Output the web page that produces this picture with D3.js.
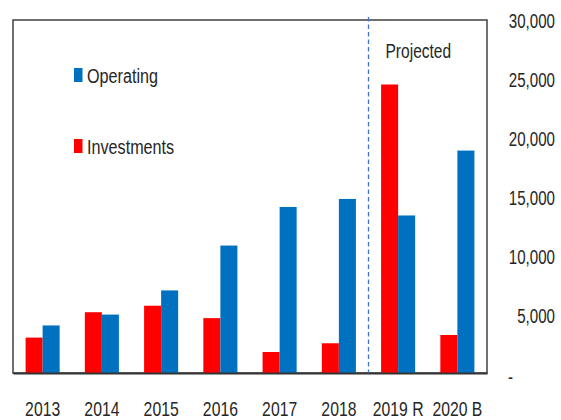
<!DOCTYPE html>
<html>
<head>
<meta charset="utf-8">
<script src="https://cdn.jsdelivr.net/npm/d3@7"></script>
<style>
  html, body { margin: 0; padding: 0; background: #fff; }
  svg { display: block; }
  text { font-family: "Liberation Sans", Arial, sans-serif; fill: #262626; }
</style>
</head>
<body>
<svg id="chart" width="561" height="420"></svg>
<script>
const categories = ["2013", "2014", "2015", "2016", "2017", "2018", "2019 R", "2020 B"];
const investments = [3000, 5150, 5700, 4650, 1780, 2520, 24450, 3220];
const operating = [4030, 4950, 7000, 10800, 14070, 14750, 13350, 18850];
const yTicks = [0, 5000, 10000, 15000, 20000, 25000, 30000];
const seriesNames = ["Investments", "Operating"];
const seriesColors = ["#FF0000", "#0070C0"];
const projectedFrom = "2019 R";
const projectedLabel = "Projected";

const svg = d3.select("#chart");
const mLeft = 13, mRight = 487, mTop = 20, mBottom = 373;

const x0 = d3.scaleBand().domain(categories).range([mLeft, mRight]).paddingInner(0).paddingOuter(0);
const x1 = d3.scaleBand().domain(seriesNames).range([0, x0.bandwidth()]).paddingInner(0).paddingOuter(0.74);
const y = d3.scaleLinear().domain([0, 30000]).range([mBottom, mTop - 1]);
const color = d3.scaleOrdinal().domain(seriesNames).range(seriesColors);

const rows = categories.map((c, i) => ({ cat: c, vals: [
  { key: "Investments", v: investments[i] },
  { key: "Operating", v: operating[i] }
]}));

// plot box
svg.append("rect")
  .attr("x", mLeft).attr("y", mTop)
  .attr("width", mRight - mLeft).attr("height", mBottom - mTop)
  .attr("fill", "none").attr("stroke", "#404040").attr("stroke-width", 1.5);

// bars
const g = svg.append("g").selectAll("g").data(rows).join("g")
  .attr("transform", d => `translate(${x0(d.cat)},0)`);
g.selectAll("rect").data(d => d.vals).join("rect")
  .attr("x", d => x1(d.key))
  .attr("width", x1.bandwidth())
  .attr("y", d => y(d.v))
  .attr("height", d => y(0) - y(d.v))
  .attr("fill", d => color(d.key));

// baseline (x axis)
const xAxis = svg.append("g")
  .attr("transform", `translate(0,${mBottom})`)
  .call(d3.axisBottom(x0).tickSize(0).tickPadding(0));
xAxis.select(".domain").attr("stroke", "#333").attr("stroke-width", 2.2);
xAxis.selectAll(".tick text")
  .attr("font-size", 21)
  .attr("font-family", "'Liberation Sans', Arial, sans-serif")
  .attr("y", 0).attr("dy", 0)
  .attr("transform", "translate(0,42.5) scale(0.75,1)")
  .style("fill", "#262626");

// y axis on right
const yAxis = svg.append("g")
  .attr("transform", `translate(555,0)`)
  .call(d3.axisRight(y).tickValues(yTicks).tickSize(0).tickPadding(0)
    .tickFormat(d => d === 0 ? "-" : d3.format(",")(d)));
yAxis.select(".domain").remove();
yAxis.selectAll(".tick text")
  .attr("font-size", 21)
  .attr("font-family", "'Liberation Sans', Arial, sans-serif")
  .attr("text-anchor", d => d === 0 ? "start" : "end")
  .attr("x", 0)
  .attr("dy", "0.36em")
  .attr("transform", d => d === 0 ? "translate(-47,3) scale(0.72,1)" : "translate(0,1) scale(0.72,1)")
  .style("fill", "#262626");

// projected dashed line
const px = x0(projectedFrom);
svg.append("line")
  .attr("x1", px).attr("x2", px)
  .attr("y1", mTop - 3).attr("y2", mBottom)
  .attr("stroke", "#4472C4").attr("stroke-width", 1.3)
  .attr("stroke-dasharray", "4.5,3");

svg.append("text")
  .attr("transform", `translate(${px + 17},58) scale(0.74,1)`)
  .attr("font-size", 21)
  .text(projectedLabel);

// legend
const legendItems = [
  { key: "Operating", y: 75 },
  { key: "Investments", y: 146 }
];
const lg = svg.append("g").selectAll("g").data(legendItems).join("g");
lg.append("rect")
  .attr("x", 74).attr("y", d => d.y - 7)
  .attr("width", 8.5).attr("height", 14)
  .attr("fill", d => color(d.key));
lg.append("text")
  .attr("transform", d => `translate(87,${d.y + 7.5}) scale(0.77,1)`)
  .attr("font-size", 21)
  .text(d => d.key);
</script>
</body>
</html>
